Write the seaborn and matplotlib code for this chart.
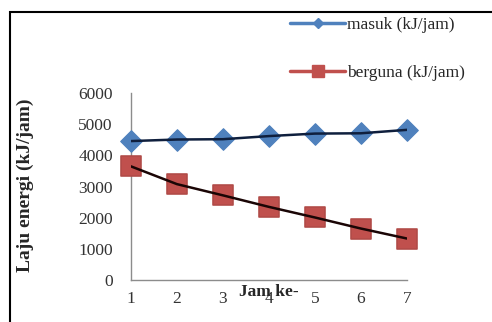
import matplotlib
matplotlib.use("Agg")
import matplotlib.pyplot as plt
import seaborn as sns
import pandas as pd
from matplotlib.lines import Line2D
from matplotlib.patches import Rectangle

# Hourly energy rates
jam = [1, 2, 3, 4, 5, 6, 7]
masuk = [4460, 4510, 4520, 4620, 4700, 4710, 4820]
berguna = [3650, 3080, 2720, 2350, 2010, 1655, 1335]
label_masuk = "masuk (kJ/jam)"
label_berguna = "berguna (kJ/jam)"
y_ticks = [0, 1000, 2000, 3000, 4000, 5000, 6000]

df = pd.DataFrame({"jam": jam, "masuk": masuk, "berguna": berguna})

sns.set_style("white")
plt.rcParams["font.family"] = ["Liberation Serif", "DejaVu Serif"]

blue = "#4F81BD"
red = "#C0504D"

fig = plt.figure(figsize=(4.92, 3.22), dpi=100)
ax = fig.add_axes([0.266, 0.130, 0.561, 0.581])

sns.scatterplot(data=df, x="jam", y="masuk", marker="D", s=120, color=blue,
                edgecolor=blue, ax=ax, zorder=3, legend=False, clip_on=False)
sns.scatterplot(data=df, x="jam", y="berguna", marker="s", s=210, color=red,
                edgecolor="#B04A47", ax=ax, zorder=3, legend=False, clip_on=False)

# dark connecting lines drawn over the markers
sns.lineplot(data=df, x="jam", y="masuk", color="#0F1F3D", lw=1.8, ax=ax,
             zorder=4, legend=False)
sns.lineplot(data=df, x="jam", y="berguna", color="#1A0505", lw=1.8, ax=ax,
             zorder=4, legend=False)

ax.set_xlim(1, 7)
ax.set_ylim(0, 6000)
ax.set_yticks(y_ticks)
ax.set_xticks(jam)
ax.set_xticklabels([str(j) for j in jam])
ax.set_yticklabels([str(v) for v in y_ticks])

for side in ["top", "right"]:
    ax.spines[side].set_visible(False)
for side in ["left", "bottom"]:
    ax.spines[side].set_color("#8C8C8C")
    ax.spines[side].set_linewidth(1.0)
ax.tick_params(axis="both", direction="inout", length=6, width=1.0,
               color="#8C8C8C", labelsize=12.5, labelcolor="#333333")
ax.tick_params(axis="y", pad=10)
ax.tick_params(axis="x", pad=5)

ax.set_xlabel("Jam ke-", fontsize=12.5, fontweight="bold", labelpad=-17)
ax.set_ylabel("")
fig.text(0.052, 0.425, "Laju energi (kJ/jam)", rotation=90, fontsize=14,
         fontweight="bold", ha="center", va="center")

handles = [
    Line2D([], [], color=blue, lw=2.5, marker="D", markersize=5,
           markerfacecolor=blue, markeredgecolor=blue),
    Line2D([], [], color=red, lw=2.5, marker="s", markersize=8,
           markerfacecolor=red, markeredgecolor=red),
]
fig.legend(handles, [label_masuk, label_berguna], loc="upper left",
           bbox_to_anchor=(0.589, 0.947), frameon=False, fontsize=12.5,
           handlelength=3.2, handletextpad=0.1, labelspacing=1.85,
           borderpad=0, borderaxespad=0)

# outer chart border
fig.patches.append(Rectangle((0.0203, -0.05), 1.1, 1.013, transform=fig.transFigure,
                             fill=False, edgecolor="black", lw=1.5, clip_on=False))

fig.savefig("out.png", dpi=100)
